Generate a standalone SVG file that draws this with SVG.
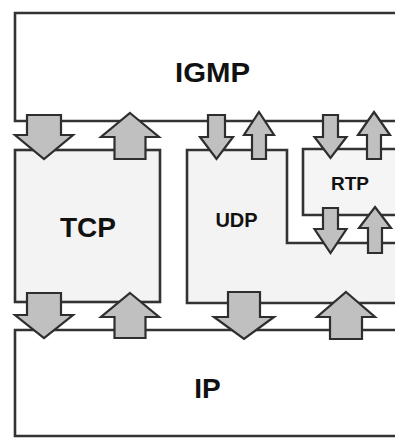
<svg xmlns="http://www.w3.org/2000/svg" width="395" height="438" viewBox="0 0 395 438">
<style>
.box{stroke:#333;stroke-width:2.6;stroke-linejoin:miter}
.white{fill:#ffffff}
.grey{fill:#f3f3f3}
.arr{fill:#c0c0c0;stroke:#2e2e2e;stroke-width:2.2;stroke-linejoin:miter}
.lbl{font-family:"Liberation Sans",Arial,sans-serif;font-weight:bold;fill:#111;text-anchor:middle}
</style>
<rect width="395" height="438" fill="#ffffff"/>
<g id="igmp">
<path class="box white" d="M396,13 H15 V121 H396"/>
<text class="lbl" x="212.5" y="82" font-size="28" textLength="75" lengthAdjust="spacingAndGlyphs">IGMP</text>
</g>
<g id="tcp">
<rect class="box grey" x="15" y="150" width="145" height="152"/>
<text class="lbl" x="88" y="237" font-size="28">TCP</text>
</g>
<g id="udp">
<path class="box grey" d="M396,243 H287 V150 H187 V303 H396"/>
<text class="lbl" x="236.5" y="227" font-size="20">UDP</text>
</g>
<g id="rtp">
<path class="box" fill="#f5f5f5" d="M396,149 H303 V215 H396"/>
<text class="lbl" x="350" y="190" font-size="19">RTP</text>
</g>
<g id="ip">
<path class="box white" d="M396,330 H15 V436 H396"/>
<text class="lbl" x="207.5" y="398" font-size="28">IP</text>
</g>
<g id="connectors">
<path class="arr" d="M27,115 H61 V135 H73 L44,159 L15,135 H27 Z"/>
<path class="arr" d="M130,113 L159,137 H145.5 V159 H114.5 V137 H101 Z"/>
<path class="arr" d="M27,293 H61 V315 H73 L44,338 L15,315 H27 Z"/>
<path class="arr" d="M130,293 L159,317 H145.5 V338 H114.5 V317 H101 Z"/>
<path class="arr" d="M208,115 H225 V137 H233 L216.5,159 L200,137 H208 Z"/>
<path class="arr" d="M259,112 L274,135 H266 V159 H252 V135 H244 Z"/>
<path class="arr" d="M323,115 H338 V137 H346.5 L330.5,158 L314.5,137 H323 Z"/>
<path class="arr" d="M374,112 L390,135 H381 V159 H367 V135 H358 Z"/>
<path class="arr" d="M323,208 H338 V229 H346.5 L330.5,253 L314.5,229 H323 Z"/>
<path class="arr" d="M375,207 L391,228 H382 V253 H368 V228 H359 Z"/>
<path class="arr" d="M228,292 H260 V317 H274 L244,339 L214,317 H228 Z"/>
<path class="arr" d="M346,292 L375,317 H362 V339 H330 V317 H317 Z"/>
</g>
</svg>
